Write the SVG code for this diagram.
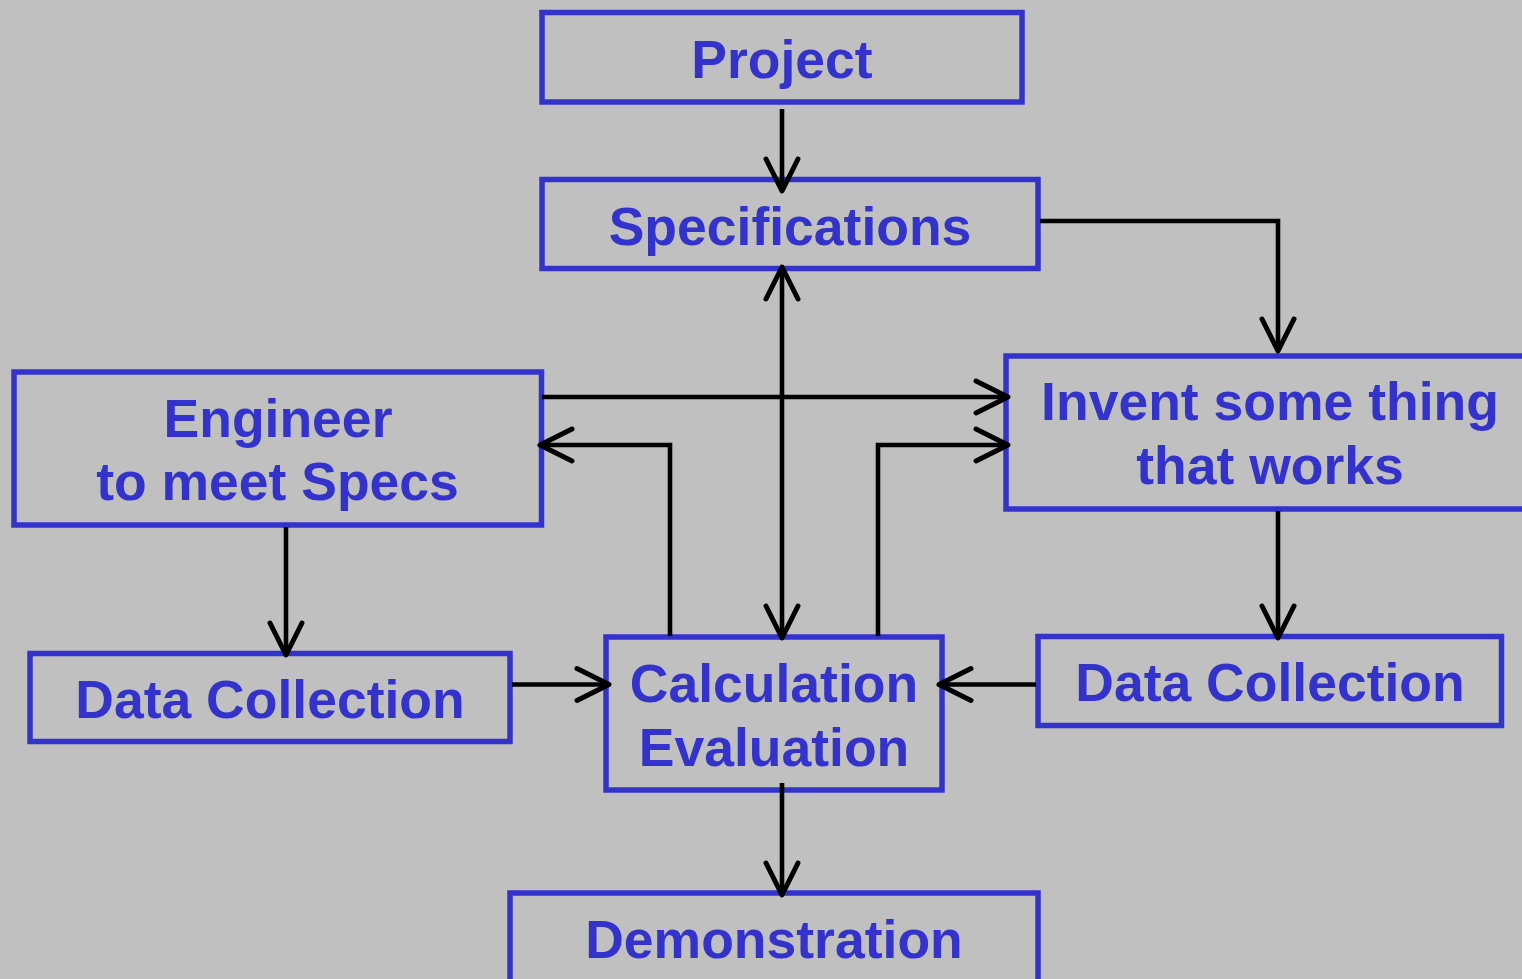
<svg xmlns="http://www.w3.org/2000/svg" width="1522" height="979" viewBox="0 0 1522 979">
<style>
.box{fill:none;stroke:#3333cc;stroke-width:5.5}
.lbl{font-family:"Liberation Sans",Arial,sans-serif;font-weight:bold;font-size:53.5px;fill:#3333cc;text-anchor:middle}
.con{fill:none;stroke:#000;stroke-width:4.6;stroke-linejoin:miter;stroke-linecap:butt}
</style>
<defs>
<marker id="arr" markerUnits="userSpaceOnUse" viewBox="-40 -22 44 44" refX="0" refY="0" markerWidth="44" markerHeight="44" orient="auto-start-reverse" overflow="visible">
<path d="M-32,-16 L0,0 L-32,16" fill="none" stroke="#000" stroke-width="5" stroke-linecap="round" stroke-linejoin="round"/>
</marker>
</defs>
<rect x="0" y="0" width="1522" height="979" fill="#c0c0c0"/>
<g id="project"><rect class="box" x="542" y="12.5" width="480" height="89.5"/><text class="lbl" x="782" y="78">Project</text></g>
<g id="specifications"><rect class="box" x="542" y="179.5" width="496" height="89"/><text class="lbl" x="790" y="245">Specifications</text></g>
<g id="engineer"><rect class="box" x="14" y="372" width="527.5" height="153"/><text class="lbl" x="278" y="437">Engineer</text><text class="lbl" x="277.5" y="500">to meet Specs</text></g>
<g id="invent"><rect class="box" x="1006" y="356" width="530" height="153"/><text class="lbl" x="1270" y="420">Invent some thing</text><text class="lbl" x="1270" y="484">that works</text></g>
<g id="datacollection-left"><rect class="box" x="30" y="653.5" width="480" height="88"/><text class="lbl" x="270" y="718">Data Collection</text></g>
<g id="calculation"><rect class="box" x="606" y="637" width="336" height="153"/><text class="lbl" x="774" y="702">Calculation</text><text class="lbl" x="774" y="766">Evaluation</text></g>
<g id="datacollection-right"><rect class="box" x="1038" y="636.5" width="463.5" height="89"/><text class="lbl" x="1270" y="701">Data Collection</text></g>
<g id="demonstration"><rect class="box" x="510" y="893" width="528" height="120"/><text class="lbl" x="774" y="958">Demonstration</text></g>
<g id="connectors">
<path class="con" d="M782,109 L782,191" marker-end="url(#arr)"/>
<path class="con" d="M1040,221 L1278,221 L1278,351" marker-end="url(#arr)"/>
<path class="con" d="M782,267 L782,638" marker-start="url(#arr)" marker-end="url(#arr)"/>
<path class="con" d="M542,397 L1008,397" marker-end="url(#arr)"/>
<path class="con" d="M670,636 L670,445 L540,445" marker-end="url(#arr)"/>
<path class="con" d="M878,636 L878,445 L1008,445" marker-end="url(#arr)"/>
<path class="con" d="M286,527 L286,655" marker-end="url(#arr)"/>
<path class="con" d="M512,684.5 L609,684.5" marker-end="url(#arr)"/>
<path class="con" d="M1036,684.5 L939,684.5" marker-end="url(#arr)"/>
<path class="con" d="M1278,511 L1278,638" marker-end="url(#arr)"/>
<path class="con" d="M782,783 L782,895" marker-end="url(#arr)"/>
</g>
</svg>
